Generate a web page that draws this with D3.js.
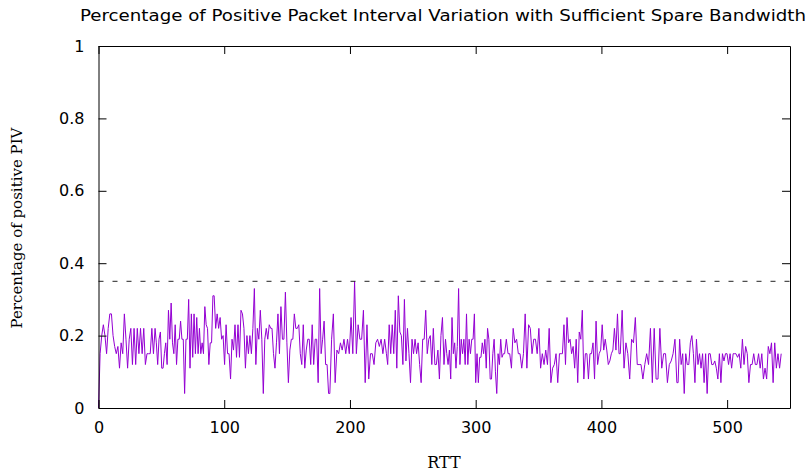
<!DOCTYPE html>
<html>
<head>
<meta charset="utf-8">
<script src="https://cdn.jsdelivr.net/npm/d3@7"></script>
<style>
  body { margin: 0; background: #fff; }
  text { font-family: "DejaVu Sans", sans-serif; }
</style>
</head>
<body>
<svg width="809" height="474"></svg>
<script>
// values, one small array per stretch of RTT
var seg0 = [0, 0.15, 0.2, 0.23, 0.2, 0.15, 0.22, 0.26, 0.26, 0.2, 0.17, 0.15, 0.17, 0.11, 0.18, 0.15, 0.26, 0.19, 0.11, 0.19, 0.22, 0.12, 0.22, 0.12, 0.22, 0.15, 0.22, 0.15, 0.22, 0.12, 0.15, 0.15, 0.15, 0.22, 0.15, 0.22]
var seg1 = [0.18, 0.12, 0.19, 0.21, 0.11, 0.11, 0.15, 0.18, 0.12, 0.27, 0.19, 0.29, 0.18, 0.15, 0.23, 0.12, 0.19, 0.19, 0.24, 0.19, 0.19, 0.04, 0.19, 0.19, 0.3, 0.11, 0.26, 0.14, 0.26, 0.15, 0.25, 0.15, 0.22, 0.15, 0.18, 0.15, 0.28, 0.23, 0.22, 0.12, 0.18, 0.18, 0.31]
var seg2 = [0.31, 0.22, 0.26, 0.22, 0.25, 0.19, 0.2, 0.12, 0.23, 0.15, 0.15, 0.08, 0.19, 0.16, 0.23, 0.14, 0.23, 0.14, 0.27, 0.26, 0.22, 0.11, 0.2, 0.15, 0.2, 0.15, 0.22, 0.33, 0.12, 0.22, 0.19, 0.27, 0.19, 0.04, 0.19, 0.22, 0.19, 0.23, 0.22]
var seg3 = [0.22, 0.15, 0.11, 0.18, 0.26, 0.15, 0.28, 0.19, 0.19, 0.32, 0.18, 0.07, 0.16, 0.19, 0.19, 0.26, 0.22, 0.22, 0.23, 0.15, 0.12, 0.23, 0.11, 0.16, 0.19, 0.19, 0.12, 0.23, 0.12, 0.19, 0.19, 0.07, 0.33, 0.15, 0.19, 0.24, 0.12, 0.12, 0.04]
var seg4 = [0.04, 0.19, 0.26, 0.07, 0.16, 0.15, 0.18, 0.16, 0.19, 0.15, 0.19, 0.15, 0.25, 0.15, 0.35, 0.15, 0.23, 0.19, 0.19, 0.27, 0.07, 0.23, 0.08, 0.15, 0.15, 0.12, 0.18, 0.19, 0.17, 0.19, 0.15, 0.19, 0.15]
var seg5 = [0.12, 0.23, 0.15, 0.23, 0.15, 0.27, 0.11, 0.31, 0.21, 0.2, 0.12, 0.3, 0.13, 0.22, 0.15, 0.07, 0.19, 0.15, 0.19, 0.15, 0.18, 0.12, 0.07, 0.19, 0.19, 0.27, 0.15, 0.19, 0.2, 0.12, 0.22, 0.12, 0.12, 0.16, 0.08, 0.2, 0.25, 0.12, 0.19]
var seg6 = [0.15, 0.12, 0.16, 0.08, 0.25, 0.15, 0.18, 0.11, 0.17, 0.33, 0.12, 0.19, 0.15, 0.19, 0.12, 0.26, 0.12, 0.19, 0.15, 0.19, 0.19, 0.26, 0.07, 0.15, 0.07, 0.14, 0.14, 0.18, 0.15, 0.19, 0.11, 0.22, 0.19, 0.08, 0.08, 0.15, 0.19, 0.1, 0.04, 0.15, 0.12, 0.19, 0.14, 0.15]
var seg7 = [0.15, 0.19, 0.15, 0.15, 0.11, 0.22, 0.18, 0.19, 0.15, 0.15, 0.11, 0.15, 0.26, 0.11, 0.23, 0.22, 0.15, 0.19, 0.19, 0.15, 0.22, 0.11, 0.15, 0.12, 0.16, 0.12, 0.22, 0.07, 0.11, 0.12, 0.15, 0.07, 0.15, 0.15]
var seg8 = [0.15, 0.23, 0.12, 0.25, 0.18, 0.19, 0.15, 0.17, 0.11, 0.19, 0.07, 0.21, 0.19, 0.27, 0.08, 0.15, 0.15, 0.08, 0.15, 0.15, 0.18, 0.08, 0.24, 0.12, 0.15, 0.16, 0.23, 0.16, 0.19, 0.16, 0.12, 0.13, 0.15, 0.16, 0.22, 0.16, 0.26, 0.15]
var seg9 = [0.15, 0.27, 0.11, 0.18, 0.15, 0.08, 0.19, 0.18, 0.25, 0.12, 0.12, 0.12, 0.08, 0.12, 0.15, 0.12, 0.22, 0.07, 0.22, 0.08, 0.08, 0.22, 0.11, 0.15, 0.15, 0.07, 0.12, 0.13, 0.15, 0.19, 0.07]
var seg10 = [0.07, 0.19, 0.12, 0.15, 0.04, 0.15, 0.12, 0.12, 0.18, 0.2, 0.15, 0.07, 0.19, 0.12, 0.15, 0.11, 0.15, 0.07, 0.15, 0.04, 0.15, 0.15, 0.12, 0.12, 0.13, 0.11, 0.08, 0.15, 0.07, 0.15, 0.13, 0.15, 0.15, 0.12, 0.15, 0.11, 0.15, 0.15]
var seg11 = [0.15, 0.14, 0.15, 0.11, 0.19, 0.12, 0.17, 0.15, 0.07, 0.12, 0.12, 0.15, 0.12, 0.12, 0.15, 0.11, 0.15, 0.08, 0.11, 0.08, 0.17, 0.15, 0.18, 0.07, 0.18, 0.11, 0.15, 0.11, 0.15]

var segments = [seg0, seg1, seg2, seg3, seg4, seg5, seg6, seg7, seg8, seg9, seg10, seg11]
// RTT range each array spans
var segEdges = [0, 45, 91, 137, 183, 229, 276, 322, 368, 414, 460, 506, 543]

var xTicks = [0, 100, 200, 300, 400, 500]
var yTicks = [0, 0.2, 0.4, 0.6, 0.8, 1]
var threshold = 0.35

var titleText = "Percentage of Positive Packet Interval Variation with Sufficient Spare Bandwidth"
var xLabel = "RTT"
var yLabel = "Percentage of positive PIV"

var margin = {left: 98.5, right: 19, top: 46, bottom: 66}
var W = 809, H = 474

var x = d3.scaleLinear().domain([0, 550]).range([margin.left, W - margin.right])
var y = d3.scaleLinear().domain([0, 1]).range([H - margin.bottom, margin.top])

// spread each array's readings over its stretch of RTT
var points = []
segments.forEach((seg, k) => {
  var pos = d3.scaleLinear()
    .domain([0, seg.length - 1])
    .range([segEdges[k] + (k ? 1 : 0), segEdges[k + 1]])
  seg.forEach((v, i) => points.push({rtt: pos(i), value: v}))
})

var svg = d3.select("svg")

var line = d3.line()
  .x(d => x(d.rtt))
  .y(d => y(d.value))

svg.append("path")
  .datum(points)
  .attr("d", line)
  .attr("fill", "none")
  .attr("stroke", "#9400d3")
  .attr("stroke-width", 1)

svg.append("line")
  .attr("x1", x(0)).attr("x2", x(550))
  .attr("y1", y(threshold)).attr("y2", y(threshold))
  .attr("stroke", "#222")
  .attr("stroke-width", 1)
  .attr("stroke-dasharray", "5,9")

// axes, gnuplot style: ticks pointing in, mirrored
svg.append("g")
  .attr("transform", `translate(0,${y(0)})`)
  .call(d3.axisBottom(x).tickValues(xTicks).tickSizeInner(-8).tickSizeOuter(0).tickPadding(14))
svg.append("g")
  .attr("transform", `translate(0,${y(1)})`)
  .call(d3.axisTop(x).tickValues(xTicks).tickSizeInner(-8).tickSizeOuter(0).tickFormat(""))
svg.append("g")
  .attr("transform", `translate(${x(0)},0)`)
  .call(d3.axisLeft(y).tickValues(yTicks).tickSizeInner(-8).tickSizeOuter(0).tickPadding(14).tickFormat(d3.format("~g")))
svg.append("g")
  .attr("transform", `translate(${x(550)},0)`)
  .call(d3.axisRight(y).tickValues(yTicks).tickSizeInner(-8).tickSizeOuter(0).tickFormat(""))

svg.selectAll(".domain").attr("stroke", "#000")
svg.selectAll(".tick line").attr("stroke", "#000")
svg.selectAll(".tick text")
  .attr("fill", "#000")
  .style("font-family", "DejaVu Sans, sans-serif")
  .style("font-size", "16px")

svg.append("text")
  .attr("x", 443).attr("y", 21)
  .attr("text-anchor", "middle")
  .attr("textLength", 726)
  .attr("lengthAdjust", "spacingAndGlyphs")
  .style("font-size", "16px")
  .text(titleText)

svg.append("text")
  .attr("x", 444).attr("y", 468)
  .attr("text-anchor", "middle")
  .style("font-family", "DejaVu Serif, serif")
  .style("font-size", "16px")
  .text(xLabel)

svg.append("text")
  .attr("transform", `translate(22,${228}) rotate(-90)`)
  .attr("text-anchor", "middle")
  .style("font-family", "DejaVu Serif, serif")
  .style("font-size", "15px")
  .text(yLabel)
</script>
</body>
</html>
